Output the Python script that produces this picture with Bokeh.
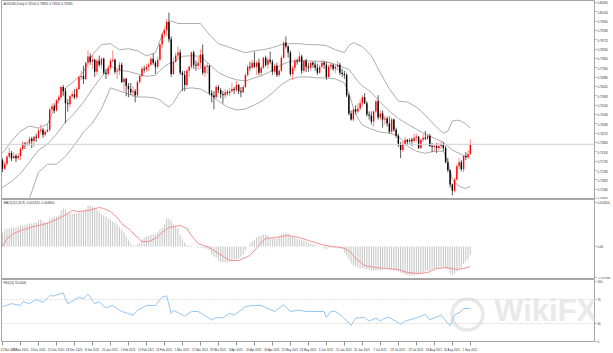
from bokeh.plotting import figure
from bokeh.layouts import column
from bokeh.models import Range1d, FixedTicker, Span, Label, ColumnDataSource, PrintfTickFormatter
from bokeh.embed import file_html
from bokeh.resources import INLINE

# ---------------- data ----------------
date_label_bars = [0, 8, 16, 24, 32, 40, 48, 56, 64, 72, 80, 88, 96, 104, 112, 120, 128,
                   136, 144, 152, 160, 168, 176, 184, 192, 200, 208]
date_labels = ["11 Nov 2020", "23 Nov 2020", "3 Dec 2020", "15 Dec 2020", "28 Dec 2020",
               "8 Jan 2021", "20 Jan 2021", "1 Feb 2021", "11 Feb 2021", "23 Feb 2021",
               "5 Mar 2021", "17 Mar 2021", "29 Mar 2021", "8 Apr 2021", "20 Apr 2021",
               "30 Apr 2021", "12 May 2021", "24 May 2021", "3 Jun 2021", "15 Jun 2021",
               "25 Jun 2021", "7 Jul 2021", "19 Jul 2021", "29 Jul 2021", "10 Aug 2021",
               "20 Aug 2021", "1 Sep 2021"]

opens = [.7280,.7238,.7262,.7298,.7315,.7290,.7300,.7290,.7300,.7335,
         .7362,.7356,.7362,.7386,.7374,.7395,.7390,.7425,.7430,.7405,
         .7420,.7430,.7530,.7545,.7525,.7575,.7590,.7640,.7620,.7560,
         .7555,.7595,.7605,.7590,.7630,.7690,.7695,.7680,.7760,.7790,
         .7765,.7775,.7715,.7770,.7750,.7780,.7710,.7705,.7735,.7770,
         .7775,.7715,.7720,.7750,.7665,.7680,.7645,.7630,.7615,.7620,
         .7600,.7665,.7695,.7730,.7725,.7740,.7750,.7780,.7760,.7740,
         .7775,.7850,.7900,.7920,.7960,.7875,.7705,.7765,.7795,.7810,
         .7710,.7700,.7650,.7720,.7740,.7810,.7750,.7745,.7760,.7800,
         .7710,.7740,.7745,.7610,.7600,.7590,.7640,.7625,.7605,.7600,
         .7615,.7610,.7620,.7630,.7625,.7650,.7620,.7615,.7640,.7700,
         .7740,.7735,.7760,.7740,.7760,.7710,.7735,.7785,.7750,.7775,
         .7765,.7715,.7745,.7700,.7720,.7785,.7860,.7840,.7810,.7705,
         .7735,.7770,.7765,.7790,.7720,.7770,.7740,.7735,.7760,.7750,
         .7735,.7710,.7740,.7760,.7750,.7690,.7740,.7750,.7730,.7740,
         .7750,.7710,.7705,.7700,.7600,.7510,.7480,.7530,.7520,.7535,
         .7560,.7590,.7560,.7505,.7500,.7470,.7520,.7570,.7490,.7510,
         .7480,.7485,.7460,.7420,.7480,.7430,.7400,.7360,.7330,.7360,
         .7380,.7370,.7380,.7375,.7390,.7395,.7340,.7380,.7390,.7385,
         .7400,.7350,.7345,.7350,.7340,.7350,.7360,.7340,.7270,.7230,
         .7160,.7130,.7185,.7250,.7270,.7235,.7300,.7295,.7310]
highs = [.7290,.7275,.7305,.7340,.7325,.7320,.7310,.7315,.7345,.7375,
         .7370,.7375,.7395,.7395,.7400,.7410,.7435,.7455,.7440,.7430,
         .7460,.7540,.7560,.7560,.7580,.7600,.7645,.7650,.7635,.7580,
         .7600,.7620,.7630,.7640,.7695,.7720,.7745,.7765,.7820,.7805,
         .7800,.7780,.7780,.7795,.7785,.7785,.7730,.7750,.7780,.7820,
         .7780,.7735,.7765,.7760,.7690,.7685,.7660,.7660,.7645,.7630,
         .7675,.7700,.7740,.7745,.7755,.7760,.7790,.7805,.7770,.7790,
         .7855,.7910,.7930,.7975,.8007,.7890,.7785,.7810,.7840,.7825,
         .7720,.7720,.7730,.7745,.7815,.7820,.7770,.7790,.7825,.7850,
         .7750,.7760,.7750,.7625,.7620,.7650,.7650,.7635,.7620,.7630,
         .7625,.7635,.7660,.7640,.7670,.7655,.7640,.7650,.7710,.7750,
         .7765,.7775,.7815,.7770,.7780,.7745,.7790,.7795,.7785,.7815,
         .7775,.7755,.7760,.7730,.7795,.7865,.7890,.7845,.7820,.7745,
         .7780,.7780,.7815,.7800,.7775,.7780,.7760,.7765,.7765,.7765,
         .7755,.7750,.7775,.7770,.7765,.7750,.7765,.7755,.7750,.7770,
         .7760,.7730,.7720,.7710,.7610,.7525,.7540,.7550,.7560,.7580,
         .7600,.7610,.7570,.7520,.7520,.7525,.7575,.7600,.7525,.7525,
         .7500,.7495,.7495,.7490,.7485,.7440,.7410,.7370,.7375,.7395,
         .7385,.7390,.7390,.7410,.7410,.7400,.7385,.7410,.7425,.7410,
         .7410,.7365,.7360,.7365,.7365,.7375,.7370,.7350,.7290,.7235,
         .7165,.7195,.7260,.7290,.7280,.7305,.7320,.7330,.7383]
lows = [.7221,.7230,.7250,.7290,.7275,.7285,.7270,.7280,.7280,.7325,
        .7335,.7350,.7350,.7340,.7345,.7370,.7385,.7410,.7390,.7395,
        .7415,.7420,.7515,.7510,.7520,.7560,.7580,.7595,.7462,.7520,
        .7540,.7585,.7580,.7580,.7625,.7675,.7655,.7675,.7740,.7750,
        .7730,.7690,.7700,.7740,.7730,.7700,.7680,.7695,.7725,.7760,
        .7705,.7680,.7700,.7660,.7620,.7595,.7590,.7600,.7590,.7565,
        .7590,.7655,.7690,.7710,.7715,.7720,.7745,.7750,.7705,.7730,
        .7770,.7830,.7885,.7890,.7860,.7690,.7700,.7760,.7780,.7700,
        .7620,.7620,.7640,.7690,.7730,.7730,.7720,.7725,.7730,.7700,
        .7690,.7705,.7600,.7565,.7530,.7585,.7610,.7585,.7560,.7585,
        .7600,.7595,.7615,.7605,.7615,.7605,.7590,.7610,.7635,.7690,
        .7720,.7730,.7735,.7700,.7700,.7690,.7730,.7740,.7730,.7755,
        .7700,.7705,.7690,.7690,.7715,.7780,.7830,.7785,.7695,.7675,
        .7720,.7750,.7760,.7705,.7710,.7715,.7715,.7720,.7735,.7720,
        .7700,.7705,.7735,.7730,.7675,.7685,.7725,.7720,.7710,.7720,
        .7700,.7690,.7680,.7590,.7500,.7475,.7470,.7505,.7510,.7525,
        .7545,.7555,.7495,.7480,.7455,.7445,.7510,.7480,.7475,.7440,
        .7455,.7445,.7410,.7410,.7420,.7390,.7345,.7290,.7320,.7350,
        .7355,.7360,.7350,.7365,.7370,.7335,.7335,.7370,.7380,.7380,
        .7345,.7320,.7320,.7315,.7330,.7335,.7325,.7265,.7220,.7145,
        .7106,.7120,.7180,.7235,.7225,.7220,.7280,.7285,.7305]
closes = [.7238,.7262,.7298,.7315,.7290,.7300,.7290,.7300,.7335,.7362,
          .7356,.7362,.7386,.7374,.7395,.7390,.7425,.7430,.7405,.7420,
          .7430,.7530,.7545,.7525,.7575,.7590,.7640,.7620,.7560,.7555,
          .7595,.7605,.7590,.7630,.7690,.7695,.7680,.7760,.7790,.7765,
          .7775,.7715,.7770,.7750,.7780,.7710,.7705,.7735,.7770,.7775,
          .7715,.7720,.7750,.7665,.7680,.7645,.7630,.7615,.7620,.7600,
          .7665,.7695,.7730,.7725,.7740,.7750,.7780,.7760,.7740,.7775,
          .7850,.7900,.7920,.7960,.7875,.7705,.7765,.7795,.7810,.7710,
          .7700,.7650,.7720,.7740,.7810,.7750,.7745,.7760,.7800,.7710,
          .7740,.7745,.7610,.7600,.7590,.7640,.7625,.7605,.7600,.7615,
          .7610,.7620,.7630,.7625,.7650,.7620,.7615,.7640,.7700,.7740,
          .7735,.7760,.7740,.7760,.7710,.7735,.7785,.7750,.7775,.7765,
          .7715,.7745,.7700,.7720,.7785,.7860,.7840,.7810,.7705,.7735,
          .7770,.7765,.7790,.7720,.7770,.7740,.7735,.7760,.7750,.7735,
          .7710,.7740,.7760,.7750,.7690,.7740,.7750,.7730,.7740,.7750,
          .7710,.7705,.7700,.7600,.7510,.7480,.7530,.7520,.7535,.7560,
          .7590,.7560,.7505,.7500,.7470,.7520,.7570,.7490,.7510,.7480,
          .7485,.7460,.7420,.7480,.7430,.7400,.7360,.7330,.7360,.7380,
          .7370,.7380,.7375,.7390,.7395,.7340,.7380,.7390,.7385,.7400,
          .7350,.7345,.7350,.7340,.7350,.7360,.7340,.7270,.7230,.7160,
          .7130,.7185,.7250,.7270,.7235,.7300,.7295,.7310,.7358]

# Bollinger bands (20,2) read at sample bars
bb_bars = [0,4,8,12,16,20,24,28,32,36,40,44,48,52,56,60,64,68,70,72,74,76,78,80,84,88,92,96,
           100,104,108,112,116,120,124,128,132,136,140,144,148,152,154,156,158,160,164,168,
           172,176,180,184,188,192,196,198,200,202,204,206,208]
bb_upper = [.7314,.7373,.7423,.7448,.7438,.7458,.7557,.7636,.7670,.7715,.7799,.7849,.7854,.7824,
            .7829,.7819,.7794,.7809,.7868,.7928,.7967,.7962,.7953,.7953,.7953,.7953,.7898,.7854,
            .7839,.7824,.7809,.7819,.7824,.7834,.7849,.7854,.7854,.7849,.7849,.7844,.7824,.7809,
            .7844,.7859,.7849,.7839,.7794,.7710,.7631,.7571,.7566,.7542,.7502,.7453,.7413,.7423,
            .7472,.7477,.7472,.7458,.7438]
bb_mid = [.7146,.7175,.7215,.7270,.7329,.7359,.7408,.7467,.7512,.7566,.7631,.7690,.7745,.7722,
          .7717,.7705,.7693,.7698,.7722,.7742,.7755,.7762,.7777,.7792,.7794,.7792,.7752,.7712,
          .7690,.7676,.7670,.7685,.7700,.7722,.7750,.7767,.7772,.7769,.7767,.7764,.7752,.7735,
          .7727,.7698,.7668,.7646,.7614,.7564,.7522,.7485,.7458,.7433,.7408,.7388,.7368,.7349,
          .7329,.7319,.7309,.7299,.7294]
bb_lower = [.6977,.6977,.7007,.7091,.7220,.7260,.7260,.7299,.7354,.7418,.7463,.7532,.7636,.7621,
            .7606,.7591,.7591,.7586,.7576,.7557,.7542,.7562,.7601,.7631,.7636,.7631,.7606,.7571,
            .7542,.7527,.7532,.7552,.7576,.7611,.7651,.7680,.7690,.7690,.7685,.7685,.7680,.7661,
            .7611,.7537,.7487,.7453,.7433,.7418,.7413,.7398,.7349,.7324,.7314,.7324,.7324,.7274,
            .7185,.7161,.7146,.7141,.7151]

# MACD(12,26,9) main values (histogram), one per bar
macd = [0.00336,0.00408,0.00432,0.00432,0.00456,0.00456,0.00456,0.00480,0.00504,0.00504,
        0.00528,0.00528,0.00552,0.00552,0.00576,0.00576,0.00624,0.00648,0.00600,0.00576,
        0.00576,0.00648,0.00696,0.00720,0.00720,0.00744,0.00864,0.00912,0.00888,0.00816,
        0.00792,0.00792,0.00792,0.00792,0.00816,0.00816,0.00840,0.00888,0.00984,0.00984,
        0.00960,0.00936,0.00888,0.00840,0.00768,0.00744,0.00720,0.00672,0.00648,0.00600,
        0.00576,0.00528,0.00456,0.00408,0.00336,0.00240,0.00144,0.00072,0.00024,0.00024,
        0.00048,0.00072,0.00168,0.00216,0.00240,0.00264,0.00288,0.00288,0.00288,0.00336,
        0.00408,0.00456,0.00528,0.00672,0.00672,0.00624,0.00528,0.00480,0.00432,0.00288,
        0.00168,0.00096,0.00048,0.00024,0.00024,0.0,0.0,-0.00024,-0.00024,-0.00024,
        -0.00048,-0.00048,-0.00096,-0.00192,-0.00240,-0.00264,-0.00336,-0.00384,-0.00384,-0.00384,
        -0.00384,-0.00360,-0.00336,-0.00312,-0.00312,-0.00288,-0.00240,-0.00192,-0.00096,0.0,
        0.00072,0.00120,0.00168,0.00216,0.00240,0.00264,0.00288,0.00288,0.00264,0.00216,
        0.00192,0.00192,0.00192,0.00240,0.00288,0.00312,0.00336,0.00312,0.00264,0.00240,
        0.00216,0.00192,0.00168,0.00168,0.00144,0.00120,0.00096,0.00072,0.00048,0.00048,
        0.00024,0.0,0.0,-0.00048,-0.00072,-0.00024,-0.00024,-0.00024,-0.00024,-0.00024,
        -0.00048,-0.00072,-0.00144,-0.00216,-0.00312,-0.00408,-0.00456,-0.00480,-0.00504,-0.00528,
        -0.00528,-0.00528,-0.00552,-0.00552,-0.00576,-0.00576,-0.00576,-0.00576,-0.00576,-0.00552,
        -0.00528,-0.00528,-0.00552,-0.00552,-0.00576,-0.00576,-0.00600,-0.00624,-0.00648,-0.00672,
        -0.00672,-0.00696,-0.00696,-0.00696,-0.00672,-0.00648,-0.00648,-0.00624,-0.00600,-0.00576,
        -0.00576,-0.00552,-0.00552,-0.00528,-0.00504,-0.00504,-0.00504,-0.00528,-0.00552,-0.00648,
        -0.00696,-0.00648,-0.00600,-0.00552,-0.00504,-0.00408,-0.00360,-0.00312,-0.00192]

# MACD signal line read at sample bars
sig_bars = [0,2,5,8,11,14,18,21,25,29,31,34,38,43,45,48,51,53,57,60,62,65,68,71,74,79,82,84,87,92,
            96,101,105,110,114,117,121,127,132,136,142,146,151,154,157,161,166,170,176,180,
            185,189,193,197,200,202,205,208]
signal = [0.0,0.00192,0.00312,0.00384,0.00432,0.00480,0.00528,0.00576,0.00672,0.00792,
          0.00864,0.00840,0.00864,0.00936,0.00912,0.00840,0.00696,0.00552,0.00384,0.00216,
          0.00120,0.00120,0.00192,0.00336,0.00456,0.00504,0.00432,0.00264,0.00072,-0.00024,
          -0.00168,-0.00336,-0.00336,-0.00216,0.00024,0.00192,0.00216,0.00264,0.00216,0.00144,
          0.00048,0.0,-0.00024,-0.00096,-0.00288,-0.00456,-0.00504,-0.00528,-0.00552,-0.00624,
          -0.00648,-0.00624,-0.00528,-0.00504,-0.00528,-0.00552,-0.00528,-0.00480]

# RSI(14) read at sample bars
rsi_bars = [0,4,8,9,12,15,18,21,23,27,29,31,34,36,38,41,43,46,49,53,58,60,64,68,71,73,75,76,81,84,
            87,93,95,98,101,103,108,111,115,121,125,128,132,135,143,144,146,148,151,155,157,161,
            163,166,168,170,172,177,179,183,186,188,190,195,199,201,204,205,208]
rsi = [58,63,60,66,63,70,65,76,76,81,63,67,74,71,79,63,66,56,60,50,44,52,60,60,74,76,47,52,42,50,
       50,36,40,39,47,44,58,60,60,50,61,50,52,50,50,40,50,50,42,27,39,40,34,39,34,39,40,29,34,38,
       42,45,36,44,26,44,50,55,55]

price_ticks = [0.80565, 0.80105, 0.79645, 0.79185, 0.78725, 0.78265, 0.77805, 0.77345, 0.76885,
               0.76425, 0.75965, 0.75505, 0.75045, 0.74585, 0.74125, 0.73665, 0.73205, 0.72745,
               0.72285, 0.71825, 0.71365, 0.70905]
macd_ticks = [0.0106, 0.0, -0.0075]
macd_tick_labels = ["0.010614", "0.00", "-0.007495"]
rsi_ticks = [100, 70, 30, 0]

# ---------------- styling ----------------
FONT = "Liberation Sans"
W = 613
BORDER = "#a6a6a6"
TXT = "#333333"
AXFS = "2.9px"
TTFS = "3.1px"
xr = Range1d(-0.44, 263.2)


def make_fig(height, y_range, bottom=0, xaxis=False):
    p = figure(width=W, height=height, x_range=xr, y_range=y_range,
               output_backend="svg", toolbar_location=None,
               x_axis_location="below" if xaxis else None, y_axis_location="right",
               min_border_left=1, min_border_right=13, min_border_top=0,
               min_border_bottom=bottom)
    p.grid.visible = False
    p.outline_line_color = BORDER
    p.outline_line_width = 1
    p.background_fill_color = "white"
    p.border_fill_color = "white"
    ax = p.yaxis[0]
    ax.axis_line_color = None
    ax.major_tick_out = 2
    ax.major_tick_in = 0
    ax.major_tick_line_color = BORDER
    ax.minor_tick_line_color = None
    ax.major_label_standoff = 1
    ax.major_label_text_font = FONT
    ax.major_label_text_font_size = AXFS
    ax.major_label_text_color = TXT
    return p


# ---------------- main price panel ----------------
p1 = make_fig(199, Range1d(0.70863, 0.80664))
p1.yaxis[0].ticker = FixedTicker(ticks=price_ticks)
p1.yaxis[0].formatter = PrintfTickFormatter(format="%.5f")

n = len(closes)
xs = list(range(n))
up = [c >= o for o, c in zip(opens, closes)]
body_top = [max(o, c) for o, c in zip(opens, closes)]
body_bot = [min(o, c) if abs(o - c) > 0.00012 else max(o, c) - 0.00012 for o, c in zip(opens, closes)]
src = ColumnDataSource(dict(
    x=xs, high=highs, low=lows, top=body_top, bottom=body_bot,
    color=["#ff0000" if u else "#000000" for u in up],
    wick=["#ff8a8a" if u else "#5a5a5a" for u in up]))

BB = "#acacac"
p1.line(bb_bars, bb_upper, line_color=BB, line_width=1)
p1.line(bb_bars, bb_mid, line_color=BB, line_width=1)
p1.line(bb_bars, bb_lower, line_color=BB, line_width=1)

p1.add_layout(Span(location=closes[-1], dimension="width", line_color="#d2d2da", line_width=1))

p1.segment(x0="x", y0="low", x1="x", y1="high", line_color="wick", line_width=1, source=src)
p1.vbar(x="x", width=0.62, top="top", bottom="bottom", fill_color="color",
        line_color=None, source=src)

p1.add_layout(Label(x=0.4, y=0.80664, y_offset=-1.5, text_baseline="top",
                    text="AUDUSD,Daily  %.5f %.5f %.5f %.5f" % (opens[-1], highs[-1], lows[-1], closes[-1]),
                    text_font=FONT, text_font_size=TTFS, text_color=TXT))
p1.add_layout(Label(x=xr.end, y=closes[-1], x_offset=1.5, text_baseline="middle",
                    text="%.5f" % closes[-1], text_font=FONT, text_font_size=AXFS,
                    text_color="white", background_fill_color="#000000"))

# ---------------- MACD panel ----------------
p2 = make_fig(80, Range1d(-0.00792, 0.01128))
p2.yaxis[0].ticker = FixedTicker(ticks=macd_ticks)
p2.yaxis[0].major_label_overrides = dict(zip(macd_ticks, macd_tick_labels))
p2.vbar(x=xs, width=0.45, top=macd, bottom=0, fill_color="#c4c4c4", line_color=None)
p2.line(sig_bars, signal, line_color="#f49090", line_width=1)
p2.add_layout(Label(x=0.4, y=0.01128, y_offset=-1.5, text_baseline="top",
                    text="MACD(12,26,9) %.6f %.6f" % (macd[-1], signal[-1]),
                    text_font=FONT, text_font_size=TTFS, text_color=TXT))

# ---------------- RSI panel ----------------
p3 = make_fig(74, Range1d(0, 103.2), bottom=10, xaxis=True)
p3.yaxis[0].ticker = FixedTicker(ticks=rsi_ticks)
for lvl in (70, 30):
    p3.add_layout(Span(location=lvl, dimension="width", line_color="#c4c4c4",
                       line_width=1, line_dash="1 2"))

# watermark
p3.scatter([206.7], [45], marker="circle", size=31, fill_color=None,
           line_color="#e8e8e8", line_width=3.5)
p3.add_layout(Label(x=218.6, y=22.6, text="WikiFX", text_font=FONT, text_font_style="bold",
                    text_font_size="31px", text_color="#e6e6e6", text_alpha=0.9))

p3.line(rsi_bars, rsi, line_color="#93c5f3", line_width=1)
p3.add_layout(Label(x=0.4, y=103.2, y_offset=-1.5, text_baseline="top",
                    text="RSI(14) %.4f" % rsi[-1],
                    text_font=FONT, text_font_size=TTFS, text_color=TXT))

xa = p3.xaxis[0]
xa.ticker = FixedTicker(ticks=date_label_bars)
xa.major_label_overrides = {b: " " + t for b, t in zip(date_label_bars, date_labels)}
xa.major_label_text_align = "left"
xa.major_label_text_font = FONT
xa.major_label_text_font_size = AXFS
xa.major_label_text_color = TXT
xa.major_label_standoff = 2
xa.major_tick_out = 4
xa.major_tick_in = 0
xa.major_tick_line_color = "#909090"
xa.minor_tick_line_color = None
xa.axis_line_color = None

layout = column(p1, p2, p3, spacing=0)
open("out.html", "w").write(file_html(layout, INLINE))
